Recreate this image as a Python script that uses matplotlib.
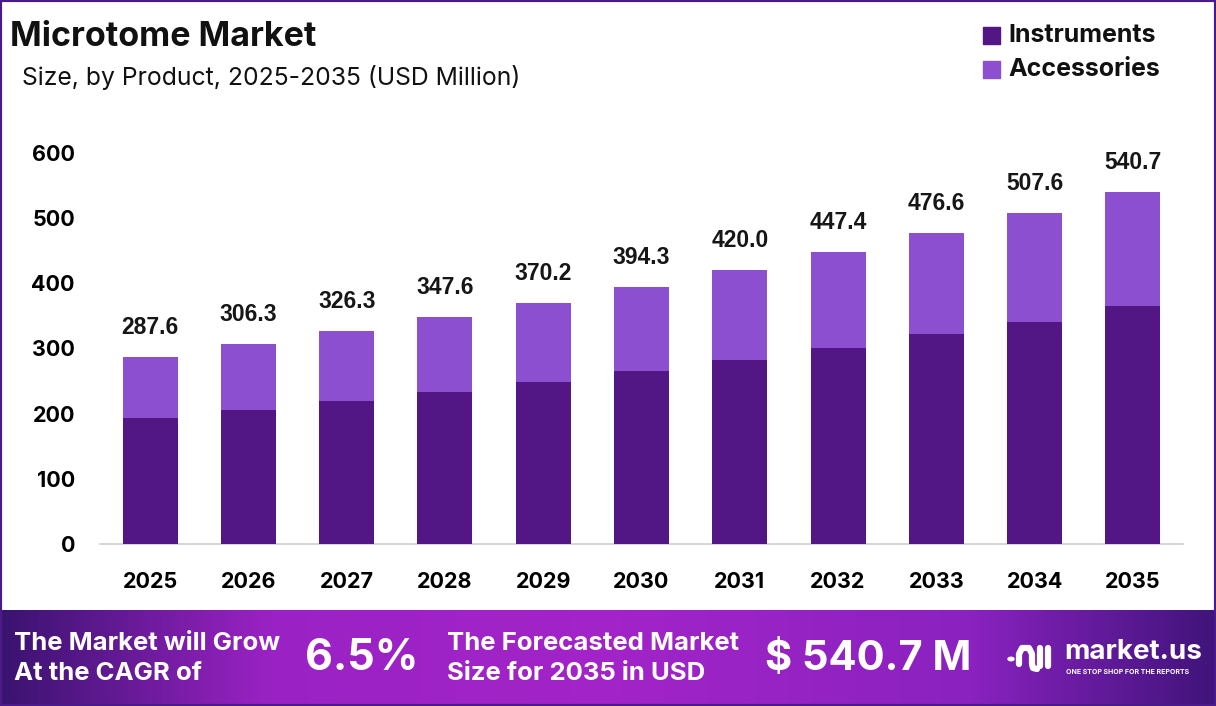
import matplotlib
matplotlib.use("Agg")
import matplotlib.pyplot as plt
import numpy as np
from matplotlib.colors import LinearSegmentedColormap
from matplotlib.patches import Rectangle, Circle
from matplotlib.lines import Line2D

# data
years = ["2025", "2026", "2027", "2028", "2029", "2030", "2031", "2032", "2033", "2034", "2035"]
totals = [287.6, 306.3, 326.3, 347.6, 370.2, 394.3, 420.0, 447.4, 476.6, 507.6, 540.7]
instruments = [194.0, 205.3, 219.7, 233.6, 249.0, 265.5, 282.0, 300.5, 321.6, 340.6, 364.8]
accessories = [t - i for t, i in zip(totals, instruments)]
yticks = [0, 100, 200, 300, 400, 500, 600]

c_inst = "#521685"
c_acc = "#8b4fcf"
bold_font = "Inter"
W, H = 1216, 706

fig = plt.figure(figsize=(W / 100, H / 100), dpi=100)

def fx(px):
    return px / W

def fy(py):
    return 1 - py / H

# main chart
ax = fig.add_axes([fx(100), fy(544), fx(1183 - 100), (544 - 153) / H])
x = np.arange(len(years))
ax.bar(x, instruments, width=0.56, color=c_inst, label="Instruments", zorder=3)
ax.bar(x, accessories, width=0.56, bottom=instruments, color=c_acc, label="Accessories", zorder=3)
for xi, t in zip(x, totals):
    ax.annotate(f"{t:.1f}", (xi, t), xytext=(0, 13), textcoords="offset points",
                ha="center", va="bottom", fontsize=16.5, family="Liberation Sans",
                fontweight="bold", color="#161616")

ax.set_xlim(-0.51, 10.51)
ax.set_ylim(0, 600)
ax.set_xticks(x)
ax.set_xticklabels(years, fontsize=15.5, fontweight="bold", family=bold_font)
ax.set_yticks(yticks)
ax.set_yticklabels([str(v) for v in yticks], fontsize=15.5, fontweight="bold", family=bold_font)
ax.tick_params(axis="both", length=0)
ax.tick_params(axis="x", pad=20)
ax.tick_params(axis="y", pad=18)
for s in ["top", "right", "left"]:
    ax.spines[s].set_visible(False)
ax.spines["bottom"].set_color("#d0d0d0")
ax.spines["bottom"].set_linewidth(1.2)

# title and subtitle
fig.text(fx(10), fy(37), "Microtome Market", fontsize=24.5, fontweight="bold",
         family=bold_font, va="center", ha="left", color="#111111")
fig.text(fx(22), fy(77), "Size, by Product, 2025-2035 (USD Million)", fontsize=17.8,
         family=bold_font, va="center", ha="left", color="#111111")

# legend
for py, lab, col in [(36, "Instruments", c_inst), (70, "Accessories", c_acc)]:
    fig.patches.append(Rectangle((fx(983), fy(py + 8)), fx(17), 17 / H, color=col,
                                 transform=fig.transFigure))
    fig.text(fx(1008), fy(py), lab, fontsize=18, fontweight="bold", family=bold_font,
             va="center", ha="left", color="#111111")

# bottom banner with gradient
bax = fig.add_axes([0, 0, 1, 96 / H])
cmap = LinearSegmentedColormap.from_list(
    "banner", [(0, "#3a136f"), (0.22, "#9a22c4"), (0.5, "#a324c8"),
               (0.8, "#8a22c0"), (1, "#40147a")])
bax.imshow(np.linspace(0, 1, 256).reshape(1, -1), aspect="auto", cmap=cmap,
           extent=[0, 1, 0, 1])
bax.set_axis_off()

white = "#ffffff"
fig.text(fx(14), fy(643), "The Market will Grow", fontsize=18.5, fontweight="bold",
         family=bold_font, color=white, va="center")
fig.text(fx(14), fy(673), "At the CAGR of", fontsize=18.5, fontweight="bold",
         family=bold_font, color=white, va="center")
fig.text(fx(305), fy(659), "6.5%", fontsize=31, fontweight="bold",
         family=bold_font, color=white, va="center")
fig.text(fx(447), fy(643), "The Forecasted Market", fontsize=18.5, fontweight="bold",
         family=bold_font, color=white, va="center")
fig.text(fx(447), fy(673), "Size for 2035 in USD", fontsize=18.5, fontweight="bold",
         family=bold_font, color=white, va="center")
fig.text(fx(765), fy(659), "$ 540.7 M", fontsize=30, fontweight="bold",
         family=bold_font, color=white, va="center")

# logo icon drawn with a few strokes
fig.patches.append(Circle((fx(1011), fy(659)), 3 / W, color=white, transform=fig.transFigure))
icon_strokes = [
    ([1019, 1019, 1022, 1029, 1032, 1032], [664, 654, 648, 648, 654, 664]),
    ([1032, 1033, 1037], [664, 668, 669]),
    ([1040, 1040], [648, 666]),
    ([1048, 1048], [648, 666]),
]
for xs, ys in icon_strokes:
    fig.lines.append(Line2D([fx(v) for v in xs], [fy(v) for v in ys], color=white,
                            linewidth=4.5, solid_capstyle="round",
                            solid_joinstyle="round", transform=fig.transFigure))
fig.text(fx(1064), fy(652), "market.us", fontsize=20, fontweight="bold",
         family=bold_font, color=white, va="center")
fig.text(fx(1066), fy(672), "ONE STOP SHOP FOR THE REPORTS", fontsize=5,
         fontweight="bold", family=bold_font, color=white, va="center")

# outer frame
fig.patches.append(Rectangle((0, 0), 1, 1, fill=False, edgecolor="#4a1a8a",
                             linewidth=3, transform=fig.transFigure))

fig.savefig("out.png", dpi=100)
